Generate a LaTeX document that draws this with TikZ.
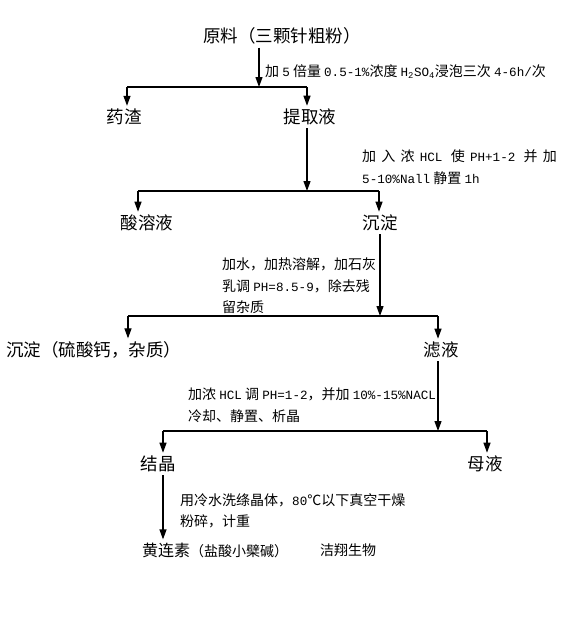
\documentclass[tikz,border=0pt]{standalone}
\usepackage{fontspec}
\setmainfont{Noto Sans CJK SC}
\newfontfamily\latinmono{Liberation Mono}[Scale=0.9]
\newcommand\asc[1]{{\latinmono #1}}
\newcommand\gp{\hspace{5.2pt}}
\usetikzlibrary{arrows.meta}

\begin{document}
\begin{tikzpicture}[x=1pt,y=-1pt,
	stage/.style={font=\fontsize{17.5}{20}\selectfont, inner sep=3pt},
	note/.style={font=\fontsize{14}{21.5}\selectfont, align=left, anchor=north west, inner sep=0pt},
	flow/.style={-{Triangle[width=7pt,length=10pt]}, line width=1.2pt},
	bar/.style={line width=1.2pt}]
	\useasboundingbox (0,0) rectangle (577,629);
	% stages
	\node[stage, anchor=west] (raw) at (200,36) {原料（三颗针粗粉）};
	\node[stage] (dregs) at (124,117) {药渣};
	\node[stage] (extract) at (310,117) {提取液};
	\node[stage] (acid) at (147,223) {酸溶液};
	\node[stage] (precip) at (380,223) {沉淀};
	\node[stage, anchor=west] (caso) at (3,350) {沉淀（硫酸钙，杂质）};
	\node[stage] (filtrate) at (441,350) {滤液};
	\node[stage] (crystal) at (158,464) {结晶};
	\node[stage] (mother) at (485,464) {母液};
	\node[stage, anchor=west, font=\fontsize{16}{18}\selectfont] (product) at (139,550) {黄连素{\fontsize{14}{16}\selectfont（盐酸小檗碱）}};
	\node[anchor=west, inner sep=0pt, font=\fontsize{14}{16}\selectfont] (brand) at (320,550) {洁翔生物};
	% notes
	\node[note] (n1) at (265,64) {加 \asc{5} 倍量 \asc{0.5-1\%}浓度 \asc{H\textsubscript{2}SO\textsubscript{4}}浸泡三次 \asc{4-6h/}次};
	\node[note] (n2) at (362,149.5) {加\gp 入\gp 浓\gp \asc{HCL} \gp 使\gp \asc{PH+1-2} \gp 并\gp 加\\\asc{5-10\%Nall} 静置 \asc{1h}};
	\node[note] (n3) at (222,257.5) {加水，加热溶解，加石灰\\乳调 \asc{PH=8.5-9}，除去残\\留杂质};
	\node[note] (n4) at (188,387.5) {加浓 \asc{HCL} 调 \asc{PH=1-2}，并加 \asc{10\%-15\%NACL}\\冷却、静置、析晶};
	\node[note] (n5) at (180,493) {用冷水洗绦晶体，\asc{80}℃以下真空干燥\\粉碎，计重};
	% split points
	\coordinate (s1) at (259,87);
	\coordinate (s1l) at (127,87);
	\coordinate (s1r) at (307,87);
	\coordinate (s2) at (307,191);
	\coordinate (s2l) at (138,191);
	\coordinate (s2r) at (379,191);
	\coordinate (s3) at (380,316);
	\coordinate (s3l) at (128,316);
	\coordinate (s3r) at (438,316);
	\coordinate (s4) at (438,431);
	\coordinate (s4l) at (163,431);
	\coordinate (s4r) at (487,431);
	% connectors
	\draw[flow] (raw.south -| s1) -- (s1);
	\draw[bar] (s1l) -- (s1r);
	\draw[flow] (s1l) -- (s1l |- dregs.north);
	\draw[flow] (s1r) -- (s1r |- extract.north);
	\draw[flow] (extract.south -| s2) -- (s2);
	\draw[bar] (s2l) -- (s2r);
	\draw[flow] (s2l) -- (s2l |- acid.north);
	\draw[flow] (s2r) -- (s2r |- precip.north);
	\draw[flow] (precip.south -| s3) -- (s3);
	\draw[bar] (s3l) -- (s3r);
	\draw[flow] (s3l) -- (s3l |- caso.north);
	\draw[flow] (s3r) -- (s3r |- filtrate.north);
	\draw[flow] (filtrate.south -| s4) -- (s4);
	\draw[bar] (s4l) -- (s4r);
	\draw[flow] (s4l) -- (s4l |- crystal.north);
	\draw[flow] (s4r) -- (s4r |- mother.north);
	\draw[flow] (crystal.south -| s4l) -- (s4l |- product.north);
\end{tikzpicture}
\end{document}
